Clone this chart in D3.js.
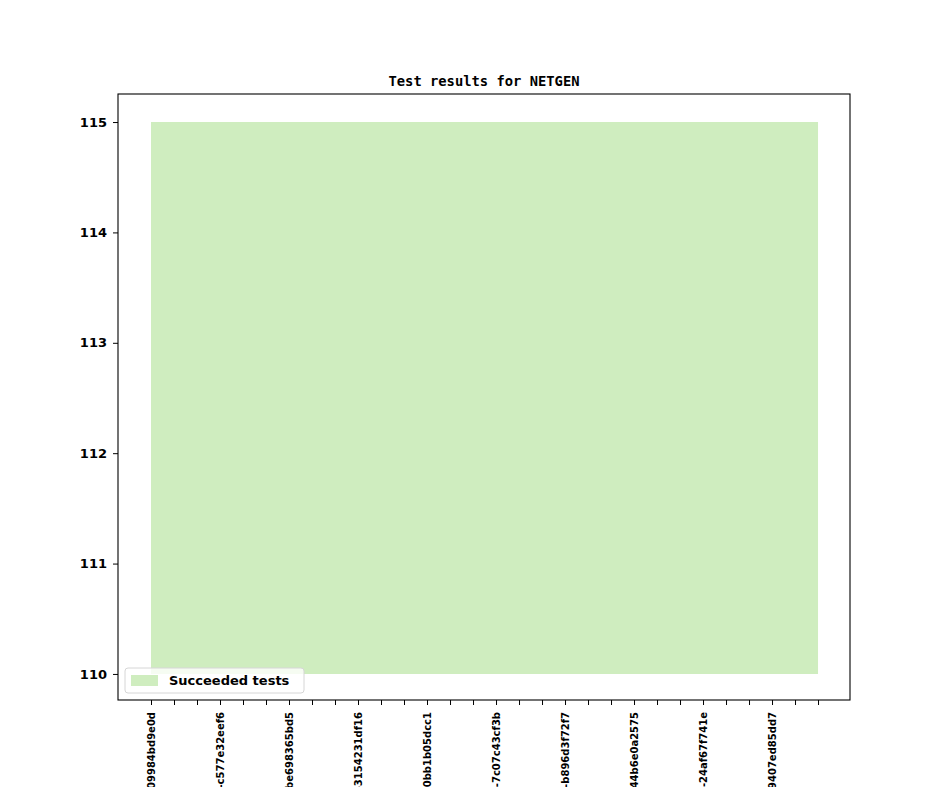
<!DOCTYPE html>
<html>
<head>
<meta charset="utf-8">
<script src="https://cdn.jsdelivr.net/npm/d3@7"></script>
<style>
  body { margin: 0; background: #fff; }
</style>
</head>
<body>
<div class="parent"></div>
<script>
// commits, one per point; only every third one gets a tick label
const commitIndex = [0, 1, 2, 3, 4, 5, 6, 7, 8, 9, 10, 11, 12, 13, 14, 15,
  16, 17, 18, 19, 20, 21, 22, 23, 24, 25, 26, 27, 28, 29];
const succeeded = [115, 115, 115, 115, 115, 115, 115, 115, 115, 115, 115, 115, 115, 115, 115,
  115, 115, 115, 115, 115, 115, 115, 115, 115, 115, 115, 115, 115, 115, 115];
const baseline = [110, 110, 110, 110, 110, 110, 110, 110, 110, 110, 110, 110, 110, 110, 110,
  110, 110, 110, 110, 110, 110, 110, 110, 110, 110, 110, 110, 110, 110, 110];
const tickLabels = ["2023-01-10-09984bd9e0d", "2023-01-17-c577e32eef6", "2023-01-24-be698365bd5",
  "2023-01-31-3154231df16", "2023-02-07-0bb1b05dcc1", "2023-02-14-7c07c43cf3b",
  "2023-02-21-b896d3f72f7", "2023-02-28-44b6e0a2575", "2023-03-07-24af67f741e",
  "2023-03-14-9407ed85dd7"];
const yTicks = [110, 111, 112, 113, 114, 115];

const width = 944, height = 787;
const margin = { top: 94, right: 94, bottom: 87, left: 118 };
const innerWidth = width - margin.left - margin.right;
const innerHeight = height - margin.top - margin.bottom;

const svg = d3.select(".parent").append("svg")
  .attr("width", width)
  .attr("height", height)
  .style("display", "block");

const g = svg.append("g")
  .attr("transform", `translate(${margin.left},${margin.top})`);

const data = commitIndex.map((c, i) => ({ i: c, lo: baseline[i], hi: succeeded[i] }));

const xScale = d3.scaleLinear()
  .domain([-1.435, 30.39])
  .range([0, innerWidth]);

const yScale = d3.scaleLinear()
  .domain([109.764, 115.254])
  .range([innerHeight, 0]);

const area = d3.area()
  .x(d => xScale(d.i))
  .y0(d => yScale(d.lo))
  .y1(d => yScale(d.hi));

g.append("path")
  .datum(data)
  .attr("d", area)
  .attr("fill", "#cfedbf");

// y axis
const yAxis = g.append("g")
  .call(d3.axisLeft(yScale).tickValues(yTicks).tickSize(5).tickPadding(6).tickFormat(d3.format("d")));
yAxis.select(".domain").remove();
yAxis.selectAll("text")
  .style("font-family", "DejaVu Sans")
  .style("font-weight", "bold")
  .style("font-size", "13px");

// x axis
const xAxis = g.append("g")
  .attr("transform", `translate(0,${innerHeight})`)
  .call(d3.axisBottom(xScale).tickValues(commitIndex).tickSize(5)
    .tickFormat(d => d % 3 === 0 ? tickLabels[d / 3] : ""));
xAxis.select(".domain").remove();
xAxis.selectAll("text")
  .attr("transform", "rotate(-90)")
  .attr("x", -12)
  .attr("y", 0)
  .attr("dy", "0.35em")
  .style("text-anchor", "end")
  .style("font-family", "DejaVu Sans")
  .style("font-weight", "bold")
  .style("font-size", "10px");

// frame
g.append("rect")
  .attr("width", innerWidth)
  .attr("height", innerHeight)
  .attr("fill", "none")
  .attr("stroke", "#000")
  .attr("stroke-width", 1.1);

svg.append("text")
  .attr("x", margin.left + innerWidth / 2)
  .attr("y", 86)
  .attr("text-anchor", "middle")
  .style("font-family", "DejaVu Sans Mono")
  .style("font-weight", "bold")
  .style("font-size", "13.8px")
  .text("Test results for NETGEN");

// legend
const legend = g.append("g")
  .attr("transform", `translate(7,${innerHeight - 32})`);
legend.append("rect")
  .attr("width", 179)
  .attr("height", 25)
  .attr("rx", 3)
  .attr("fill", "#fff")
  .attr("fill-opacity", 0.8)
  .attr("stroke", "#d6d6d6");
legend.append("rect")
  .attr("x", 6)
  .attr("y", 7)
  .attr("width", 27)
  .attr("height", 11)
  .attr("fill", "#cfedbf");
legend.append("text")
  .attr("x", 44)
  .attr("y", 17)
  .style("font-family", "DejaVu Sans")
  .style("font-weight", "bold")
  .style("font-size", "13px")
  .text("Succeeded tests");
</script>
</body>
</html>
